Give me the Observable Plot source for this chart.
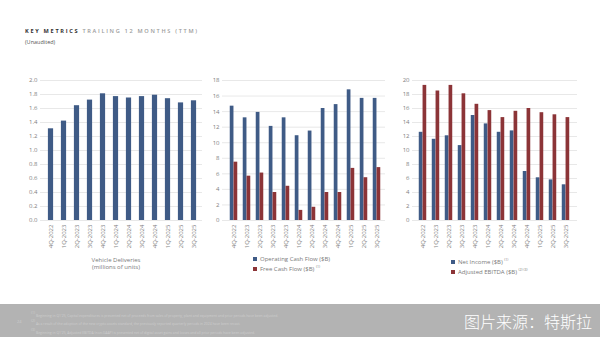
<!DOCTYPE html>
<html><head><meta charset="utf-8">
<script src="https://cdn.jsdelivr.net/npm/d3@7"></script>
<script src="https://cdn.jsdelivr.net/npm/@observablehq/plot@0.6"></script>
<style>
html,body{margin:0;padding:0;background:#fff;}
body{width:600px;height:337px;position:relative;overflow:hidden;font-family:"Open Sans",sans-serif;}
.abs{position:absolute;}
.title{left:25px;top:27px;font-size:5.6px;letter-spacing:1.7px;font-weight:700;white-space:nowrap;}
.sub{left:25px;top:38px;font-size:5.5px;color:#555;}
.leg{font-size:6px;color:#7a7a7a;white-space:nowrap;line-height:7px;}
.sq{display:inline-block;width:4px;height:4px;margin-right:3px;vertical-align:0px;}
sup{font-size:3.5px;vertical-align:3px;}
.footer{left:0;top:304px;width:600px;height:33px;background:#b3b3b3;}
.fn{font-size:3.4px;color:#cdcdcd;white-space:nowrap;line-height:5.3px;}
.src{right:8px;top:309px;font-size:16px;color:#fff;font-family:"Noto Sans CJK SC",sans-serif;font-weight:300;}
</style></head>
<body>
<script>
const quarters = ["4Q-2022","1Q-2023","2Q-2023","3Q-2023","4Q-2023","1Q-2024","2Q-2024","3Q-2024","4Q-2024","1Q-2025","2Q-2025","3Q-2025"];
const deliveries = [1.31,1.42,1.64,1.72,1.81,1.77,1.75,1.77,1.79,1.74,1.68,1.71];
const operatingCashFlow = [14.7,13.2,13.9,12.1,13.2,10.9,11.5,14.4,14.9,16.8,15.7,15.7];
const freeCashFlow = [7.5,5.7,6.1,3.6,4.4,1.3,1.7,3.6,3.6,6.7,5.5,6.8];
const netIncome = [12.6,11.6,12.1,10.7,15.0,13.8,12.6,12.8,7.0,6.1,5.8,5.1];
const adjustedEbitda = [19.3,18.5,19.3,18.1,16.6,15.7,14.7,15.6,16.0,15.4,15.1,14.7];
const blue = "#3f5b86", red = "#8c3437";

const rows = quarters.map((q,i)=>({q, del:deliveries[i], ocf:operatingCashFlow[i], fcf:freeCashFlow[i], ni:netIncome[i], eb:adjustedEbitda[i]}));

function panel({left, width, mL, mR, inL, inR, yMax, yStep, fmt, series}) {
  const bw = (width - mL - mR - inL - inR) / quarters.length;
  const marks = [Plot.gridY(d3.range(0, yMax + yStep/2, yStep), {stroke:"#e2e2e2", strokeOpacity:1, strokeWidth:0.8})];
  if (series.length === 1) {
    marks.push(Plot.barY(rows, {x:"q", y:series[0].key, fill:series[0].color, insetLeft:bw/2-2.6, insetRight:bw/2-2.6}));
  } else {
    const w = 3.8;
    marks.push(Plot.barY(rows, {x:"q", y:series[0].key, fill:series[0].color, insetLeft:bw/2-w, insetRight:bw/2}));
    marks.push(Plot.barY(rows, {x:"q", y:series[1].key, fill:series[1].color, insetLeft:bw/2, insetRight:bw/2-w}));
  }
  const svg = Plot.plot({
    width, height:190, marginLeft:mL, marginRight:mR, marginTop:10, marginBottom:40,
    style:{fontSize:"6px", fontFamily:"Open Sans, sans-serif", color:"#808080", background:"transparent", overflow:"visible"},
    x:{domain:quarters, padding:0, insetLeft:inL, insetRight:inR, tickRotate:-90, tickSize:0, tickPadding:4, label:null},
    y:{domain:[0,yMax], ticks:d3.range(0, yMax + yStep/2, yStep), tickFormat:fmt, tickSize:0, tickPadding:3, label:null},
    marks
  });
  svg.style.position = "absolute";
  svg.style.left = left + "px";
  svg.style.top = "70px";
  document.body.appendChild(svg);
}

panel({left:20, width:185, mL:20, mR:3, inL:3.5, inR:2.5, yMax:2, yStep:0.2, fmt:d3.format(".1f"), series:[{key:"del", color:blue}]});
panel({left:200, width:190, mL:22, mR:5, inL:4.5, inR:1.5, yMax:18, yStep:2, fmt:d3.format("d"), series:[{key:"ocf", color:blue},{key:"fcf", color:red}]});
panel({left:390, width:190, mL:22, mR:3, inL:3, inR:4.5, yMax:20, yStep:2, fmt:d3.format("d"), series:[{key:"ni", color:blue},{key:"eb", color:red}]});

function add(cls, html, style) {
  const d = document.createElement("div");
  d.className = "abs " + cls;
  d.innerHTML = html;
  Object.assign(d.style, style || {});
  document.body.appendChild(d);
  return d;
}
add("title", '<span style="color:#333">KEY METRICS</span> <span style="color:#9a9a9a;font-weight:600">TRAILING 12 MONTHS (TTM)</span>');
add("sub", "(Unaudited)");
add("leg", "Vehicle Deliveries<br>(millions of units)", {left:"88px", top:"257px", textAlign:"center", width:"56px"});
add("leg", `<span class="sq" style="background:${blue}"></span>Operating Cash Flow ($B)<br><span class="sq" style="background:${red}"></span>Free Cash Flow ($B) <sup>(1)</sup>`, {left:"253px", top:"256px"});
add("leg", `<span class="sq" style="background:${blue}"></span>Net Income ($B) <sup>(1)</sup><br><span class="sq" style="background:${red}"></span>Adjusted EBITDA ($B) <sup>(2) (3)</sup>`, {left:"451px", top:"256px"});
add("footer", "");
add("fn", "24", {left:"17px", top:"319px", fontSize:"4px"});
add("fn", "<sup>(1)</sup> Beginning in Q1'25, Capital expenditures is presented net of proceeds from sales of property, plant and equipment and prior periods have been adjusted.<br>" +
  "<sup>(2)</sup> As a result of the adoption of the new crypto assets standard, the previously reported quarterly periods in 2024 have been recast.<br>" +
  "<sup>(3)</sup> Beginning in Q1'25, Adjusted EBITDA (non-GAAP) is presented net of digital asset gains and losses and all prior periods have been adjusted.", {left:"31px", top:"310px"});
add("src", "图片来源：特斯拉");
</script>
</body></html>
